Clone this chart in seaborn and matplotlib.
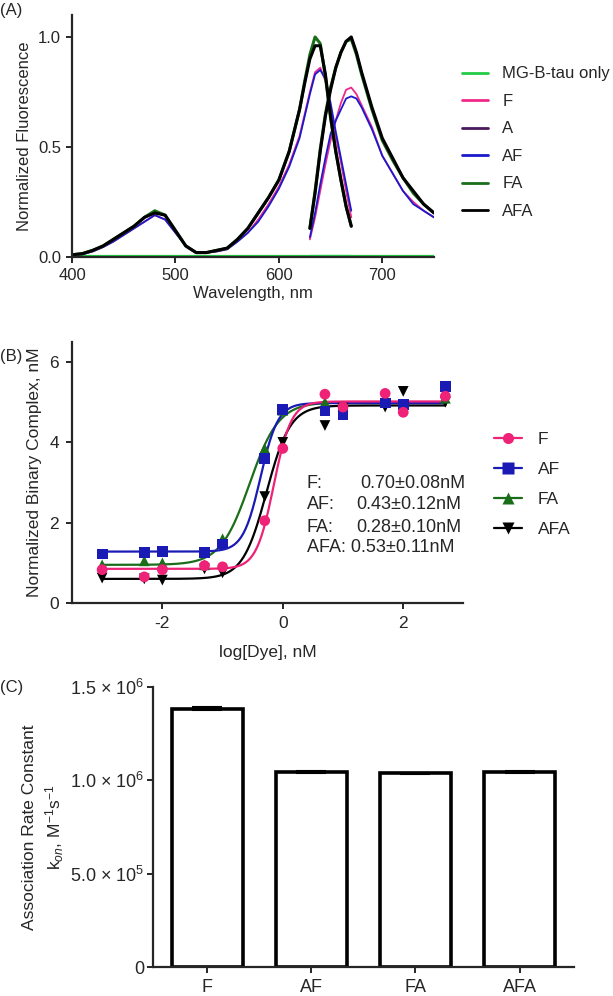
import matplotlib
matplotlib.use("Agg")
import matplotlib.pyplot as plt
from matplotlib.lines import Line2D
import numpy as np
import pandas as pd
import seaborn as sns

# ---- Panel A: excitation / emission spectra ----
ex_wl = [400, 410, 420, 430, 440, 450, 460, 470, 480, 490, 500, 510, 520, 530, 540,
         550, 560, 570, 580, 590, 600, 610, 620, 625, 630, 635, 640, 645, 650, 655,
         660, 665, 670]
em_wl = [630, 635, 640, 645, 650, 655, 660, 665, 670, 675, 680, 690, 700, 710, 720,
         730, 740, 750]

ex_FA = [0.01, 0.015, 0.03, 0.05, 0.08, 0.11, 0.14, 0.18, 0.21, 0.19, 0.12, 0.05, 0.02,
         0.02, 0.03, 0.04, 0.08, 0.13, 0.20, 0.27, 0.35, 0.48, 0.67, 0.80, 0.92, 1.00,
         0.97, 0.82, 0.63, 0.48, 0.35, 0.23, 0.14]
ex_AFA = [0.01, 0.015, 0.03, 0.05, 0.08, 0.11, 0.14, 0.18, 0.20, 0.19, 0.12, 0.05, 0.02,
          0.02, 0.03, 0.04, 0.08, 0.13, 0.20, 0.27, 0.35, 0.48, 0.67, 0.79, 0.90, 0.96,
          0.96, 0.83, 0.64, 0.48, 0.35, 0.23, 0.14]
ex_F = [0.01, 0.012, 0.025, 0.045, 0.07, 0.10, 0.13, 0.16, 0.19, 0.17, 0.11, 0.05, 0.02,
        0.02, 0.025, 0.035, 0.07, 0.11, 0.17, 0.24, 0.32, 0.42, 0.55, 0.65, 0.75, 0.84,
        0.86, 0.80, 0.68, 0.55, 0.43, 0.30, 0.18]
ex_AF = [0.01, 0.012, 0.025, 0.045, 0.07, 0.10, 0.13, 0.16, 0.19, 0.17, 0.11, 0.05, 0.02,
         0.02, 0.025, 0.035, 0.07, 0.11, 0.16, 0.23, 0.31, 0.41, 0.54, 0.64, 0.74, 0.83,
         0.85, 0.81, 0.70, 0.57, 0.45, 0.33, 0.21]
ex_A = [0.0] * len(ex_wl)
ex_MG = [0.003] * len(ex_wl)

em_FA = [0.13, 0.30, 0.49, 0.65, 0.77, 0.86, 0.93, 0.98, 0.99, 0.92, 0.83, 0.67, 0.53,
         0.44, 0.36, 0.29, 0.24, 0.20]
em_AFA = [0.13, 0.29, 0.48, 0.64, 0.76, 0.86, 0.93, 0.98, 1.00, 0.93, 0.84, 0.68, 0.54,
          0.45, 0.36, 0.30, 0.24, 0.20]
em_F = [0.08, 0.18, 0.30, 0.42, 0.53, 0.62, 0.70, 0.76, 0.77, 0.74, 0.69, 0.59, 0.46,
        0.38, 0.30, 0.25, 0.21, 0.18]
em_AF = [0.09, 0.20, 0.33, 0.45, 0.56, 0.62, 0.67, 0.72, 0.73, 0.72, 0.68, 0.58, 0.46,
         0.38, 0.30, 0.24, 0.21, 0.18]
em_A = [0.0] * len(em_wl)
em_MG = [0.003] * len(em_wl)

spec_names = ["MG-B-tau only", "F", "A", "AF", "FA", "AFA"]
spec_colors = ["#22cc44", "#f0288c", "#4a1a5c", "#1a1acc", "#1a6e1a", "#000000"]
spec_widths = [1.6, 1.3, 1.6, 1.3, 2.2, 2.2]

# ---- Panel B: binding titration ----
log_dye = [-3, -2.3, -2, -1.3, -1, -0.3, 0, 0.7, 1, 1.7, 2, 2.7]
bind_F = [0.83, 0.65, 0.83, 0.93, 0.90, 2.05, 3.85, 5.20, 4.88, 5.22, 4.75, 5.15]
bind_AF = [1.22, 1.25, 1.28, 1.25, 1.47, 3.60, 4.82, 4.78, 4.70, 4.98, 4.95, 5.40]
bind_FA = [0.95, 1.05, 1.00, 0.95, 1.60, 3.85, 4.80, 5.00, 4.90, 5.00, 4.95, 5.10]
bind_AFA = [0.62, 0.60, 0.57, 0.85, 0.75, 2.65, 4.00, 4.42, 4.85, 4.88, 5.27, 5.00]

bind_names = ["F", "AF", "FA", "AFA"]
bind_colors = ["#ee2277", "#1a1ab4", "#1a6e1a", "#000000"]
bind_markers = ["o", "s", "^", "v"]
# fitted sigmoid parameters
fit_bottom = [0.85, 1.28, 0.95, 0.60]
fit_top = [5.02, 4.98, 5.00, 4.92]
fit_logec50 = [-0.15, -0.37, -0.55, -0.27]
fit_hill = [3.0, 3.0, 1.8, 2.2]
kd_vals = ["0.70", "0.43", "0.28", "0.53"]
kd_errs = ["0.08", "0.12", "0.10", "0.11"]

# ---- Panel C: association rate constants ----
kon_names = ["F", "AF", "FA", "AFA"]
kon_vals = [1.385e6, 1.045e6, 1.037e6, 1.043e6]
kon_errs = [8e3, 5e3, 5e3, 6e3]

sns.set_style("ticks")
plt.rcParams["font.family"] = ["Liberation Sans", "DejaVu Sans"]
plt.rcParams["mathtext.fontset"] = "custom"
plt.rcParams["mathtext.rm"] = "Liberation Sans"
plt.rcParams["mathtext.it"] = "Liberation Sans:italic"
plt.rcParams["axes.unicode_minus"] = False
plt.rcParams["axes.linewidth"] = 1.6
plt.rcParams["xtick.major.width"] = 1.4
plt.rcParams["ytick.major.width"] = 1.4
plt.rcParams["xtick.major.size"] = 4.5
plt.rcParams["ytick.major.size"] = 4.5

FS = 12
FSB = 12.5

fig = plt.figure(figsize=(6.13, 9.96), dpi=100)

# ---------------- A ----------------
axA = fig.add_axes([0.1175, 0.742, 0.5905, 0.243])
ex_series = [ex_MG, ex_F, ex_A, ex_AF, ex_FA, ex_AFA]
em_series = [em_MG, em_F, em_A, em_AF, em_FA, em_AFA]
draw_order = [2, 0, 1, 3, 4, 5]
for i in draw_order:
    sns.lineplot(x=ex_wl, y=ex_series[i], ax=axA, color=spec_colors[i],
                 linewidth=spec_widths[i], label=None)
    sns.lineplot(x=em_wl, y=em_series[i], ax=axA, color=spec_colors[i],
                 linewidth=spec_widths[i], label=None)
axA.set_xlim(400, 750)
axA.set_ylim(0, 1.1)
axA.set_xticks([400, 500, 600, 700])
axA.set_yticks([0, 0.5, 1.0])
axA.set_yticklabels(["0.0", "0.5", "1.0"])
axA.tick_params(labelsize=FS)
axA.set_xlabel("Wavelength, nm", fontsize=FS, labelpad=2)
axA.set_ylabel("Normalized Fluorescence", fontsize=FS, labelpad=4)
sns.despine(ax=axA)
handlesA = [Line2D([], [], color=c, lw=2) for c in spec_colors]
fig.legend(handlesA, spec_names, loc="upper left", bbox_to_anchor=(0.742, 0.94),
           frameon=False, fontsize=FS, handlelength=1.6, labelspacing=0.75,
           handletextpad=0.85, borderaxespad=0)
fig.text(0.0, 0.997, "(A)", fontsize=FS, va="top")

# ---------------- B ----------------
axB = fig.add_axes([0.1175, 0.3946, 0.6385, 0.262])
x_fit = np.linspace(-3, 2.7, 300)
for i in [3, 2, 1, 0]:
    y_fit = fit_bottom[i] + (fit_top[i] - fit_bottom[i]) / (
        1 + 10 ** ((fit_logec50[i] - x_fit) * fit_hill[i]))
    sns.lineplot(x=x_fit, y=y_fit, ax=axB, color=bind_colors[i], linewidth=1.6)
bind_series = [bind_F, bind_AF, bind_FA, bind_AFA]
for i in [3, 2, 1, 0]:
    sns.scatterplot(x=log_dye, y=bind_series[i], ax=axB, color=bind_colors[i],
                    marker=bind_markers[i], s=60, edgecolor="none", zorder=3)
axB.set_xlim(-3.5, 3.0)
axB.set_ylim(0, 6.5)
axB.set_xticks([-2, 0, 2])
axB.set_yticks([0, 2, 4, 6])
axB.tick_params(labelsize=FSB, pad=5)
axB.set_xlabel("log[Dye], nM", fontsize=FSB, labelpad=10)
axB.set_ylabel("Normalized Binary Complex, nM", fontsize=FSB, labelpad=5)
sns.despine(ax=axB)
row_y = [2.98, 2.46, 1.89, 1.37]
for i in range(4):
    if bind_names[i] == "AFA":
        axB.text(0.4, row_y[i], f"{bind_names[i]}: {kd_vals[i]}±{kd_errs[i]}nM",
                 fontsize=13, va="center")
    else:
        axB.text(0.4, row_y[i], f"{bind_names[i]}:", fontsize=13, va="center")
        axB.text(1.28 if i == 0 else 1.22, row_y[i], f"{kd_vals[i]}±{kd_errs[i]}nM",
                 fontsize=13, va="center")
handlesB = [Line2D([], [], color=bind_colors[i], marker=bind_markers[i], lw=1.6,
                   markersize=8, markeredgecolor="none") for i in range(4)]
fig.legend(handlesB, bind_names, loc="upper left", bbox_to_anchor=(0.795, 0.573),
           frameon=False, fontsize=FSB, handlelength=1.6, labelspacing=0.85,
           handletextpad=0.9, borderaxespad=0)
fig.text(0.0, 0.650, "(B)", fontsize=FS, va="top")

# ---------------- C ----------------
axC = fig.add_axes([0.2496, 0.0291, 0.6864, 0.2811])
kon_df = pd.DataFrame({"dye": kon_names, "kon": kon_vals})
sns.barplot(data=kon_df, x="dye", y="kon", ax=axC, color="white", edgecolor="black",
            linewidth=2.6, width=0.68, errorbar=None)
axC.errorbar(range(len(kon_names)), kon_vals, yerr=kon_errs, fmt="none",
             ecolor="black", elinewidth=1.5, capsize=11, capthick=1.5)
axC.set_xlim(-0.52, 3.52)
axC.set_ylim(0, 1.5e6)
axC.set_yticks([0, 5e5, 1e6, 1.5e6])
axC.set_yticklabels(["0", "5.0 × 10$^{5}$", "1.0 × 10$^{6}$", "1.5 × 10$^{6}$"])
axC.tick_params(axis="y", labelsize=13, pad=2)
axC.tick_params(axis="x", labelsize=13, pad=4)
axC.set_xlabel("")
axC.set_ylabel("Association Rate Constant\nk$_{on}$, M$^{-1}$s$^{-1}$", fontsize=FSB,
               linespacing=1.35, labelpad=3)
sns.despine(ax=axC)
fig.text(0.0, 0.317, "(C)", fontsize=FS, va="top")

fig.savefig("out.png", dpi=100)
